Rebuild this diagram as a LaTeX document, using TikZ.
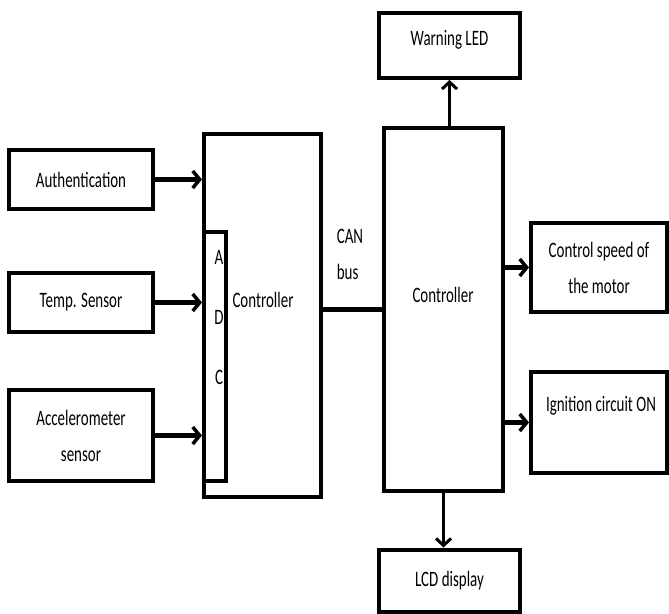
\documentclass[tikz,border=0pt]{standalone}
\usepackage{fontspec}
\setmainfont{Carlito}[FakeStretch=0.68]
\usetikzlibrary{arrows.meta}

\begin{document}
\begin{tikzpicture}[
  x=1pt, y=-1pt,
  every node/.style={font=\fontsize{22}{36}\selectfont, inner sep=0pt},
  blk/.style={rectangle, draw=black, line width=4pt, fill=white},
  feed/.style={line width=4.5pt, -{Straight Barb[length=7pt,width=17pt,line width=3.5pt]}},
  outarr/.style={line width=3pt, -{Straight Barb[length=7pt,width=15pt,line width=3pt]}}
]
  \useasboundingbox (0,0) rectangle (669,613);

  % sensors
  \node[blk, minimum width=144pt, minimum height=59pt] (auth) at (81,179.5) {Authentication};
  \node[blk, minimum width=144pt, minimum height=59pt] (temp) at (81,302.5) {Temp. Sensor};
  \node[blk, minimum width=144pt, minimum height=91pt, align=center] (accel) at (81,435.5) {Accelerometer\\sensor};

  % first controller with the ADC strip
  \node[blk, minimum width=117pt, minimum height=363pt] (lctrl) at (262.5,315.5) {};
  \node[blk, minimum width=22pt, minimum height=249pt] (adc) at (215,356.5) {};
  \node[align=center, font=\fontsize{22}{60}\selectfont] (adctxt) at (219,318) {A\\D\\C};
  \node (ltxt) at (263,300) {Controller};

  % second controller
  \node[blk, minimum width=119pt, minimum height=363pt] (rctrl) at (443.5,309.5) {};
  \node (rtxt) at (443,295) {Controller};
  \node[align=left] (can) at (350,254) {CAN\\bus};

  % outputs
  \node[blk, minimum width=141pt, minimum height=65pt] (warn) at (449.5,45.5) {};
  \node (warntxt) at (449.5,40) {Warning LED};
  \node[blk, minimum width=141pt, minimum height=62pt] (lcd) at (449.5,580.5) {LCD display};
  \node[blk, minimum width=136pt, minimum height=89pt, align=center] (speed) at (599,267.5) {Control speed of\\the motor};
  \node[blk, minimum width=136pt, minimum height=101pt] (ign) at (599,422.5) {};
  \node (igntxt) at (601,406) {Ignition circuit ON};

  % connections
  \draw[feed] (auth.east) -- (auth.east -| lctrl.west);
  \draw[feed] (temp.east) -- (temp.east -| lctrl.west);
  \draw[feed] (accel.east) -- (accel.east -| lctrl.west);
  \draw[line width=4.5pt] (rctrl.west -| lctrl.east) -- (rctrl.west);
  \draw[outarr] (warn.south |- rctrl.north) -- (warn.south);
  \draw[outarr] (rctrl.south) -- (rctrl.south |- lcd.north);
  \draw[feed] (rctrl.east |- speed.west) -- (speed.west);
  \draw[feed] (rctrl.east |- ign.west) -- (ign.west);
\end{tikzpicture}
\end{document}
